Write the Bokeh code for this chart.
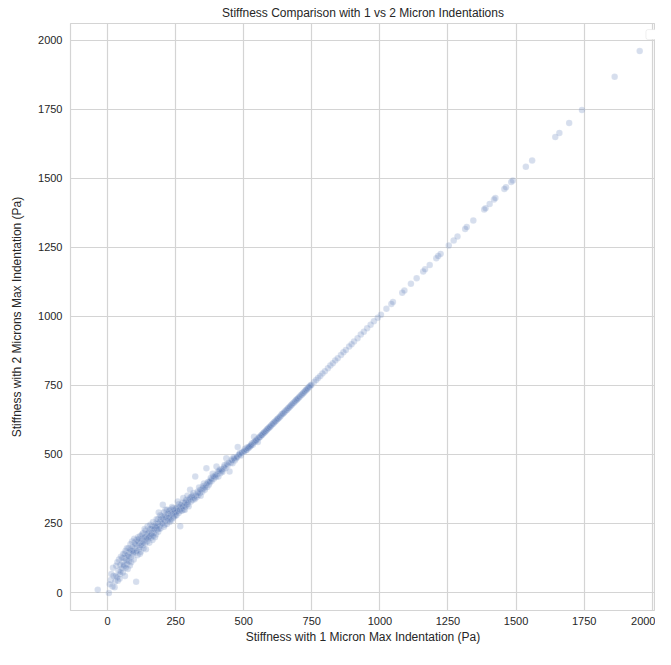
from bokeh.plotting import figure
from bokeh.models import FixedTicker, Range1d, BoxAnnotation, ColumnDataSource
from bokeh.embed import file_html
from bokeh.resources import INLINE

# Stiffness with 1 micron max indentation (Pa) / with 2 microns (Pa)
low_x = [-36, 5, 12, 18, 22, 14,
         26, 28, 32, 35, 38, 40, 42, 45, 47, 49,
         52, 55, 56, 58, 60, 62, 64, 66, 68, 70, 72, 74,
         75, 77, 78, 80, 82, 84, 86, 88, 90, 92, 93, 96, 99,
         101, 103, 105, 106, 108, 110, 112, 114, 116, 118, 120, 122, 124,
         126, 128, 130, 132, 134, 136, 138, 140, 141, 143, 145, 147, 149,
         151, 153, 155, 157, 159, 161, 163, 165, 167, 169, 171, 173, 174,
         176, 178, 180, 182, 184, 186, 188, 190, 192, 194, 195, 198]
low_y = [10, -2, 45, 22, 60, 67,
         19, 40, 97, 55, 43, 80, 120, 66, 100, 130,
         88, 110, 73, 140, 95, 125, 60, 150, 118, 102, 135, 85,
         133, 160, 112, 145, 98, 175, 128, 150, 185, 140, 151, 120, 181,
         160, 145, 39, 190, 170, 135, 200, 155, 178, 165, 205, 148, 185,
         195, 170, 215, 160, 188, 230, 178, 200, 157, 212, 185, 240, 196,
         220, 180, 205, 245, 198, 230, 215, 190, 255, 225, 216, 240, 200,
         235, 210, 265, 228, 248, 220, 290, 240, 255, 232, 264, 275]

extra_low_x = [8, 20, 30, 36, 44, 48,
               54, 59, 63, 67, 71, 73,
               79, 83, 87, 91, 95, 98,
               102, 107, 111, 115, 119, 123,
               127, 131, 135, 139, 144, 148,
               152, 156, 160, 164, 168, 172,
               177, 181, 185, 189, 193, 197,
               202, 206, 210, 214, 219, 223,
               227, 231, 236, 240, 244, 248,
               252, 257, 262, 266, 271, 275,
               279, 284, 289, 294, 299]
extra_low_y = [30, 90, 60, 110, 50, 75,
               125, 100, 140, 90, 160, 115,
               130, 155, 110, 165, 145, 195,
               175, 150, 185, 195, 140, 170,
               210, 180, 200, 225, 195, 215,
               200, 230, 210, 240, 205, 230,
               250, 240, 265, 230, 280, 250,
               270, 290, 245, 275, 300, 270,
               285, 265, 290, 305, 275, 295,
               290, 310, 320, 295, 305, 325,
               315, 300, 330, 320, 335]

mid_x = [201, 203, 205, 207, 209, 211, 213, 215, 218, 220, 222, 224,
         226, 228, 230, 232, 234, 237, 239, 241, 243, 246, 249,
         251, 253, 256, 258, 261, 263, 265, 267, 270, 273,
         276, 278, 280, 283, 285, 288, 290, 293, 295, 298,
         301, 303, 306, 309, 312, 315, 318, 322, 324,
         327, 330, 333, 336, 339, 342, 345, 348,
         351, 354, 357, 360, 363, 366, 369, 372,
         376, 379, 383, 386, 390, 394, 398,
         400, 403, 407, 410, 414, 418, 422,
         426, 430, 433, 436, 441, 448,
         452, 455, 459, 463, 467, 472,
         476, 478, 482, 486, 490, 495]
mid_y = [250, 318, 265, 238, 280, 258, 300, 270, 248, 285, 262, 295,
         272, 255, 300, 280, 262, 310, 285, 270, 300, 290, 278,
         305, 280, 295, 330, 288, 310, 300, 240, 318, 296,
         312, 342, 300, 325, 310, 335, 318, 350, 328, 312,
         340, 372, 330, 348, 335, 360, 342, 420, 350,
         345, 365, 352, 380, 360, 350, 372, 365,
         378, 395, 372, 388, 450, 382, 400, 390,
         398, 415, 405, 430, 412, 420, 418,
         456, 428, 420, 440, 432, 445, 436,
         448, 462, 450, 486, 460, 438,
         470, 482, 468, 490, 478, 485,
         492, 527, 498, 505, 496, 508]

extra_mid_x = [305, 313, 320, 332, 340, 350, 358, 365, 374, 381, 388, 396,
               405, 412, 420, 428, 438, 445, 457, 465, 474, 484, 492]
extra_mid_y = [345, 352, 338, 360, 372, 385, 380, 395, 402, 410, 420, 425,
               438, 445, 440, 455, 465, 470, 478, 485, 490, 500, 505]

line_x = [500, 504, 508, 512, 517, 521, 526, 530, 534, 538, 543, 547,
          552, 555, 559, 563, 567, 572, 577, 582, 587, 592, 597,
          603, 609, 611, 617, 623, 628, 634, 640, 646, 652, 659, 665, 671,
          677, 684, 690, 695, 701, 707, 714, 720, 726, 731, 737, 743,
          749, 758, 766, 773, 781, 789, 798, 809, 818, 827, 836, 845, 857,
          866, 875, 887, 896, 905, 918, 930, 941, 953, 966, 978, 992]
line_y = [510, 520, 515, 525, 522, 528, 532, 540, 535, 564, 548, 552,
          545, 560, 562, 568, 570, 576, 580, 586, 592, 596, 600,
          607, 612, 616, 620, 627, 631, 637, 645, 649, 656, 662, 668, 674,
          681, 687, 693, 699, 704, 711, 717, 723, 730, 735, 741, 747,
          752, 762, 769, 777, 784, 793, 801, 812, 822, 830, 840, 848, 860,
          870, 878, 891, 899, 909, 921, 934, 944, 957, 969, 982, 995]

extra_line_x = [502, 510, 515, 519, 524, 528, 536, 540, 545, 550,
                557, 565, 570, 575, 580, 585, 590, 595, 600, 606,
                614, 620, 625, 631, 637, 643, 649, 656, 662, 668,
                674, 680, 687, 693, 698, 704, 711, 717, 723, 729,
                734, 740, 746]
extra_line_y = [512, 516, 522, 527, 530, 534, 542, 546, 550, 556,
                562, 569, 575, 579, 584, 589, 594, 599, 604, 610,
                618, 624, 629, 635, 641, 647, 653, 660, 666, 672,
                678, 684, 691, 697, 702, 708, 715, 721, 727, 733,
                738, 744, 750]

high_x = [1004, 1024, 1042, 1048, 1082, 1090, 1114, 1135, 1159, 1166, 1183,
          1207, 1214, 1223, 1253, 1271, 1285, 1313, 1319, 1343, 1383, 1388,
          1403, 1419, 1424, 1457, 1463, 1482, 1488,
          1536, 1559, 1644, 1659, 1695, 1742, 1862, 1954]
high_y = [1006, 1027, 1045, 1052, 1085, 1093, 1118, 1138, 1162, 1170, 1186,
          1210, 1218, 1226, 1256, 1274, 1289, 1316, 1323, 1347, 1387, 1391,
          1407, 1423, 1428, 1461, 1467, 1486, 1492,
          1541, 1564, 1649, 1664, 1700, 1747, 1867, 1960]

tick_values = [0, 250, 500, 750, 1000, 1250, 1500, 1750, 2000]

stiff_1um = low_x + extra_low_x + mid_x + extra_mid_x + line_x + extra_line_x + high_x
stiff_2um = low_y + extra_low_y + mid_y + extra_mid_y + line_y + extra_line_y + high_y
src = ColumnDataSource(dict(x=stiff_1um, y=stiff_2um))

FONT = "Liberation Sans"
TXT = "#262626"
GRID = "#d4d4d4"

p = figure(frame_width=585, frame_height=587, output_backend="svg",
           toolbar_location=None,
           x_range=Range1d(-136, 2012), y_range=Range1d(-65, 2060),
           min_border_left=70, min_border_right=0, min_border_top=23,
           min_border_bottom=36,
           title="Stiffness Comparison with 1 vs 2 Micron Indentations")

p.title.align = "center"
p.title.text_font = FONT
p.title.text_font_size = "12px"
p.title.text_font_style = "normal"
p.title.text_color = TXT
p.title.standoff = 7
p.title.offset = 0

p.scatter("x", "y", source=src, size=6.5, fill_color="#4c72b0", fill_alpha=0.23,
          line_color="white", line_alpha=0.25, line_width=0.5)

for ax in (p.xaxis[0], p.yaxis[0]):
    ax.ticker = FixedTicker(ticks=tick_values)
    ax.axis_line_color = None
    ax.major_tick_line_color = None
    ax.minor_tick_line_color = None
    ax.major_tick_out = 0
    ax.major_tick_in = 0
    ax.minor_tick_out = 0
    ax.minor_tick_in = 0
    ax.major_label_text_font = FONT
    ax.major_label_text_font_size = "11px"
    ax.major_label_text_color = TXT
    ax.axis_label_text_font = FONT
    ax.axis_label_text_font_size = "12px"
    ax.axis_label_text_font_style = "normal"
    ax.axis_label_text_color = TXT

p.xaxis.axis_label = "Stiffness with 1 Micron Max Indentation (Pa)"
p.yaxis.axis_label = "Stiffness with 2 Microns Max Indentation (Pa)"
p.xaxis.major_label_standoff = 6
p.yaxis.major_label_standoff = 8
p.xaxis.axis_label_standoff = 2
p.yaxis.axis_label_standoff = 11

p.xgrid.grid_line_color = GRID
p.ygrid.grid_line_color = GRID
p.xgrid.grid_line_width = 1.2
p.ygrid.grid_line_width = 1.2
p.outline_line_color = GRID
p.outline_line_width = 1.2
p.background_fill_color = "white"
p.border_fill_color = "white"

# empty legend frame in the top right corner
p.add_layout(BoxAnnotation(left=1977, right=2030, bottom=2002, top=2038,
                           fill_color="white", fill_alpha=1.0,
                           line_color="#cccccc", line_width=1, border_radius=2))

open("out.html", "w").write(file_html(p, INLINE))
